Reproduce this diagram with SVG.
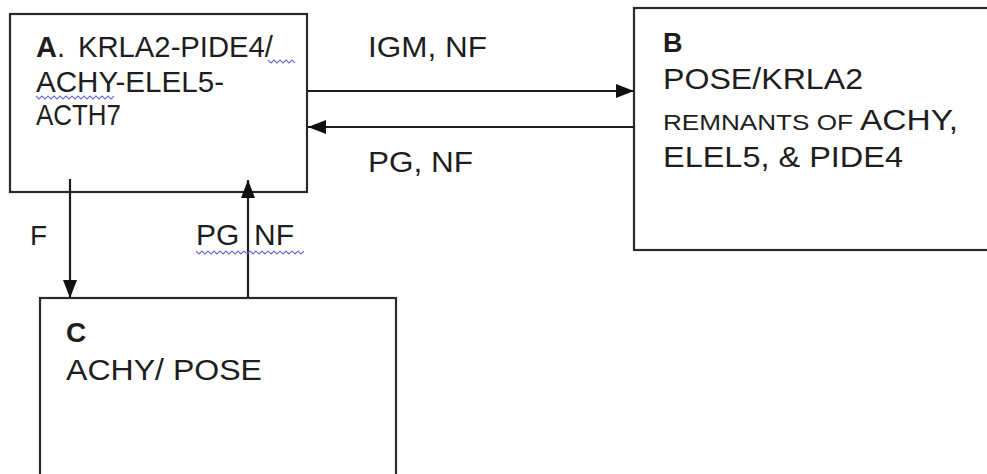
<svg xmlns="http://www.w3.org/2000/svg" width="987" height="474" viewBox="0 0 987 474">
<style>
.box{fill:#fff;stroke:#2a2a2a;stroke-width:2.2}
.t{font-family:"Liberation Sans",Arial,sans-serif;fill:#1e1e1e}
.b{font-weight:bold}
.ln{stroke:#1e1e1e;stroke-width:2.2;fill:none}
.sq{stroke:#6b6bd6;stroke-width:1.1;fill:none}
</style>
<defs>
<marker id="ah" viewBox="0 0 18 14" refX="18" refY="7" markerWidth="18" markerHeight="14" markerUnits="userSpaceOnUse" orient="auto">
<path d="M0,0 L18,7 L0,14 Z" fill="#111"/>
</marker>
</defs>
<rect width="987" height="474" fill="#fff"/>
<g id="nodeA">
<rect class="box" x="10" y="14" width="297" height="178"/>
<text class="t" x="36" y="57" font-size="29"><tspan class="b">A</tspan>.</text>
<text class="t" x="78" y="57" font-size="29" textLength="195" lengthAdjust="spacingAndGlyphs">KRLA2-PIDE4/</text>
<text class="t" x="36" y="92" font-size="29" textLength="188" lengthAdjust="spacingAndGlyphs">ACHY-ELEL5-</text>
<text class="t" x="36" y="125" font-size="29" textLength="85" lengthAdjust="spacingAndGlyphs">ACTH7</text>
<path class="sq" d="M268,60 l3,3 l3,-3 l3,3 l3,-3 l3,3 l3,-3 l3,3 l3,-3 l3,3"/>
<path class="sq" d="M36,96 l3,3 l3,-3 l3,3 l3,-3 l3,3 l3,-3 l3,3 l3,-3 l3,3 l3,-3 l3,3 l3,-3 l3,3 l3,-3 l3,3 l3,-3 l3,3 l3,-3 l3,3 l3,-3 l3,3 l3,-3 l3,3 l3,-3 l3,3 l3,-3"/>
</g>
<g id="nodeB">
<rect class="box" x="634" y="8" width="400" height="242"/>
<text class="t b" x="663" y="52" font-size="27">B</text>
<text class="t" x="663" y="89" font-size="29" textLength="200" lengthAdjust="spacingAndGlyphs">POSE/KRLA2</text>
<text class="t" x="663" y="130" font-size="22" textLength="190" lengthAdjust="spacingAndGlyphs">REMNANTS OF</text>
<text class="t" x="860" y="130" font-size="29" textLength="98" lengthAdjust="spacingAndGlyphs">ACHY,</text>
<text class="t" x="663" y="167" font-size="29" textLength="240" lengthAdjust="spacingAndGlyphs">ELEL5, &amp; PIDE4</text>
</g>
<g id="nodeC">
<rect class="box" x="40" y="298" width="356" height="200"/>
<text class="t b" x="66" y="342" font-size="28">C</text>
<text class="t" x="66" y="380" font-size="30" textLength="196" lengthAdjust="spacingAndGlyphs">ACHY/ POSE</text>
</g>
<g id="connectors">
<line class="ln" x1="307" y1="91" x2="634" y2="91" marker-end="url(#ah)"/>
<line class="ln" x1="634" y1="127" x2="308" y2="127" marker-end="url(#ah)"/>
<line class="ln" x1="70" y1="179" x2="70" y2="298" marker-end="url(#ah)"/>
<line class="ln" x1="248" y1="298" x2="248" y2="180" marker-end="url(#ah)"/>
<text class="t" x="368" y="57" font-size="30" textLength="119" lengthAdjust="spacingAndGlyphs">IGM, NF</text>
<text class="t" x="368" y="172" font-size="30" textLength="105" lengthAdjust="spacingAndGlyphs">PG, NF</text>
<text class="t" x="30" y="245" font-size="28">F</text>
<text class="t" y="245" font-size="30"><tspan x="196">PG</tspan><tspan x="254">NF</tspan></text>
<path class="sq" d="M196,251 l3,3 l3,-3 l3,3 l3,-3 l3,3 l3,-3 l3,3 l3,-3 l3,3 l3,-3 l3,3 l3,-3 l3,3 l3,-3 l3,3 l3,-3 l3,3 l3,-3 l3,3 l3,-3 l3,3 l3,-3 l3,3 l3,-3 l3,3 l3,-3 l3,3 l3,-3 l3,3 l3,-3 l3,3 l3,-3 l3,3 l3,-3 l3,3 l3,-3"/>
</g>
</svg>
